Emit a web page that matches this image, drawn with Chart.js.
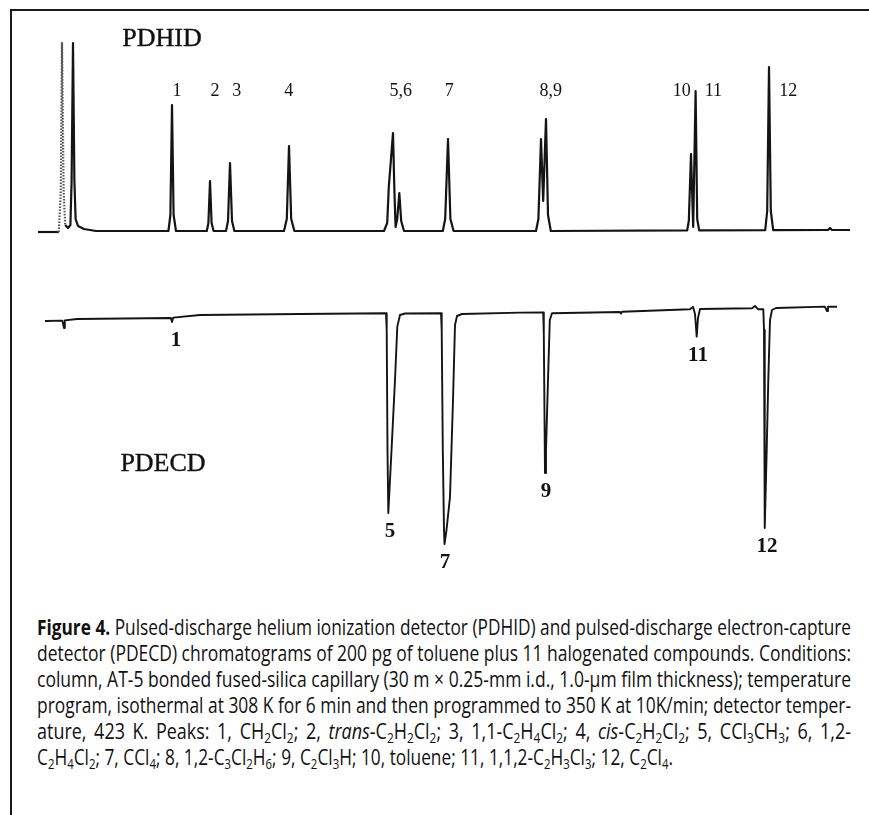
<!DOCTYPE html>
<html>
<head>
<meta charset="utf-8">
<script src="https://cdn.jsdelivr.net/npm/chart.js@4.4.1/dist/chart.umd.min.js"></script>
<style>
  html, body { margin: 0; padding: 0; background: #fff; }
  #page { position: relative; width: 869px; height: 815px; overflow: hidden; background: #fff; }
  canvas { position: absolute; left: 0; }
  .frameTop { position: absolute; left: 10px; top: 9px; width: 859px; height: 2px; background: #1a1a1a; }
  .frameLeft { position: absolute; left: 10px; top: 9px; width: 2px; height: 806px; background: #1a1a1a; }
  .det { position: absolute; font-family: 'Liberation Serif', 'Times New Roman', serif; font-size: 26px; color: #111; transform: translate(-50%, -50%); white-space: nowrap; -webkit-text-stroke: 0.4px #111; }
  #caption { position: absolute; left: 37px; top: 614px; font-family: 'Open Sans', sans-serif; font-size: 21px; color: #111; }
  #caption .ln { white-space: nowrap; height: 26px; line-height: 26px; transform-origin: 0 50%; }
  #caption .ln span { display: inline-block; }
  #caption sub { font-size: 0.66em; vertical-align: -0.3em; line-height: 0; }
</style>
</head>
<body>
<div id="page">
  <div class="frameTop"></div>
  <div class="frameLeft"></div>
  <canvas id="hid" width="869" height="220" style="top:31px"></canvas>
  <canvas id="ecd" width="869" height="300" style="top:290px"></canvas>
  <div class="det" style="left:162px; top:38px">PDHID</div>
  <div class="det" style="left:163px; top:463px">PDECD</div>
  <div id="caption">
    <div class="ln"><span><b>Figure 4.</b> Pulsed-discharge helium ionization detector (PDHID) and pulsed-discharge electron-capture</span></div>
    <div class="ln"><span>detector (PDECD) chromatograms of 200 pg of toluene plus 11 halogenated compounds. Conditions:</span></div>
    <div class="ln"><span>column, AT-5 bonded fused-silica capillary (30 m × 0.25-mm i.d., 1.0-µm film thickness); temperature</span></div>
    <div class="ln"><span>program, isothermal at 308 K for 6 min and then programmed to 350 K at 10K/min; detector temper-</span></div>
    <div class="ln"><span>ature, 423 K. Peaks: 1, CH<sub>2</sub>Cl<sub>2</sub>; 2, <i>trans</i>-C<sub>2</sub>H<sub>2</sub>Cl<sub>2</sub>; 3, 1,1-C<sub>2</sub>H<sub>4</sub>Cl<sub>2</sub>; 4, <i>cis</i>-C<sub>2</sub>H<sub>2</sub>Cl<sub>2</sub>; 5, CCl<sub>3</sub>CH<sub>3</sub>; 6, 1,2-</span></div>
    <div class="ln"><span>C<sub>2</sub>H<sub>4</sub>Cl<sub>2</sub>; 7, CCl<sub>4</sub>; 8, 1,2-C<sub>3</sub>Cl<sub>2</sub>H<sub>6</sub>; 9, C<sub>2</sub>Cl<sub>3</sub>H; 10, toluene; 11, 1,1,2-C<sub>2</sub>H<sub>3</sub>Cl<sub>3</sub>; 12, C<sub>2</sub>Cl<sub>4</sub>.</span></div>
  </div>
</div>
<script>
// PDHID trace: retention (min) and signal
const hidTime = [
  0.45, 0.97, 1.02, 1.05, 1.09, 1.13, 1.2, 1.26, 1.29, 1.325, 1.36, 1.39, 1.45, 1.6, 1.9,
  3.71, 3.76, 3.8, 3.84, 3.9,
  4.67, 4.71, 4.75, 4.79, 4.84,
  5.15, 5.2, 5.25, 5.3, 5.36,
  6.6, 6.67, 6.725, 6.78, 6.86,
  9.1, 9.18, 9.22, 9.325, 9.36, 9.39, 9.43, 9.483, 9.53, 9.6,
  10.57, 10.63, 10.7, 10.76, 10.84,
  12.9, 12.96, 13.025, 13.08, 13.15, 13.2, 13.27,
  16.68, 16.72, 16.775, 16.83, 16.89, 16.93, 16.98,
  18.63, 18.68, 18.725, 18.77, 18.83,
  20.2, 20.25, 20.3, 20.75
]
const hidSignal = [
  -0.5, -0.5, 20, 94, 20, 3, 1.5, 3, 25, 94, 25, 6, 2.5, 1, 0,
  0, 8, 63, 8, 0,
  0, 4, 25, 4, 0,
  0, 5, 34, 5, 0,
  0, 6, 42.5, 6, 0,
  0, 4, 22, 49, 20, 2, 6, 19, 5, 0,
  0, 6, 46, 6, 0,
  0, 6, 46, 15, 56, 8, 0,
  0.3, 5, 38.5, 2, 70, 6, 0.3,
  0.4, 10, 82, 10, 0.4,
  0.5, 1.5, 0.5, 0.5
]
// PDECD trace (negative going peaks)
const ecdTime = [
  0.625, 1.06, 1.1, 1.12, 1.43,
  3.77, 3.8, 3.83, 4.5, 7.0,
  9.15, 9.1675, 9.1875, 9.2075, 9.2925, 9.375, 9.4325, 9.5, 9.625,
  10.525, 10.5425, 10.57, 10.6, 10.6125, 10.6625, 10.75, 10.825, 10.875, 10.925, 11.05,
  12.5, 13.08, 13.095, 13.125, 13.15, 13.2, 13.245, 13.3,
  15.0, 15.025, 15.05,
  16.75, 16.825, 16.875, 16.9175, 16.95, 17.0,
  18.3, 18.375, 18.45,
  18.5825, 18.6, 18.612, 18.625, 18.6675, 18.7075, 18.75, 18.8, 18.9,
  20.12, 20.175, 20.2, 20.425
]
const ecdSignal = [
  -5.5, -5.3, -9, -5.2, -4.5,
  -4, -6, -3.8, -2.5, -2,
  -1.65, -10, -70, -101.5, -68.3, -35, -8.3, -2.5, -1.75,
  -1.65, -10, -70, -110, -117, -110, -93.5, -45, -7.5, -3, -2,
  -1.3, -1.2, -12, -81.5, -70, -35, -5, -1.6,
  -1.0, -1.8, -0.9,
  0.35, 1.6, -2, -13.3, -4, 0.5,
  0.85, 2, 0.4,
  0.35, -10, -70, -109, -70, -35, -5, 0, 1,
  1.7, -0.5, 1.7, 1.6
]
// peak numbers
const hidLabels = ['1', '2', '3', '4', '5,6', '7', '8,9', '10', '11', '12']
const hidLabelTime = [3.925, 4.875, 5.4175, 6.7175, 9.5175, 10.7325, 13.2675, 16.5425, 17.3325, 19.2075]
const ecdLabels = ['1', '5', '7', '9', '11', '12']
const ecdLabelTime = [3.9, 9.25, 10.625, 13.15, 16.95, 18.675]

// labels: either on a fixed level, or just under the tip of the (negative) peak
const peakLabels = {
  id: 'peakLabels',
  afterDatasetsDraw(chart, args, opts) {
    const { ctx } = chart
    const x = chart.scales.x
    const y = chart.scales.y
    const pts = chart.data.datasets[0].data
    ctx.save()
    ctx.font = opts.font
    ctx.fillStyle = '#111'
    ctx.textAlign = 'center'
    ctx.textBaseline = 'middle'
    opts.labels.forEach((txt, i) => {
      const t = opts.times[i]
      let py
      if (opts.level !== undefined) {
        py = y.getPixelForValue(opts.level)
      } else {
        let tip = 0
        for (const p of pts) {
          if (Math.abs(p.x - t) < 0.15 && p.y < tip) tip = p.y
        }
        py = y.getPixelForValue(tip) + opts.gap
      }
      ctx.fillText(txt, x.getPixelForValue(t), py)
    })
    ctx.restore()
  }
}

function drawTrace(id, time, signal, yMin, yMax, lineWidth, labelOpts, dotted) {
  const data = time.map((t, i) => ({ x: t, y: signal[i] }))
  const inDots = ctx => dotted && ctx.p0.parsed.x >= dotted[0] && ctx.p1.parsed.x <= dotted[1]
  const config = {
    type: 'line',
    data: {
      datasets: [{
        data: data,
        borderColor: '#141414',
        borderWidth: lineWidth,
        borderJoinStyle: 'round',
        pointRadius: 0,
        tension: 0,
        fill: false,
        segment: {
          // first solvent peak came out as a dotted pen trace
          borderDash: ctx => inDots(ctx) ? [1.5, 1.5] : undefined,
          borderColor: ctx => inDots(ctx) ? '#555' : undefined
        }
      }]
    },
    options: {
      responsive: false,
      animation: false,
      devicePixelRatio: 1,
      events: [],
      layout: { padding: 0 },
      scales: {
        x: { type: 'linear', min: -0.5, max: 21.225, display: false },
        y: { type: 'linear', min: yMin, max: yMax, display: false }
      },
      plugins: {
        legend: { display: false },
        tooltip: { enabled: false },
        peakLabels: labelOpts
      }
    },
    plugins: [peakLabels]
  }
  new Chart(document.getElementById(id).getContext('2d'), config)
}

drawTrace('hid', hidTime, hidSignal, -10, 100, 2.2, {
  labels: hidLabels, times: hidLabelTime, level: 69.75,
  font: "18px 'Liberation Serif', 'Times New Roman', serif"
}, [0.96, 1.14])

drawTrace('ecd', ecdTime, ecdSignal, -140, 10, 1.9, {
  labels: ecdLabels, times: ecdLabelTime, gap: 19,
  font: "bold 21px 'Liberation Serif', 'Times New Roman', serif"
})

// justify caption lines: common squeeze (a little looser for short lines), spaces take up the rest
const lines = [...document.querySelectorAll('#caption .ln')]
const target = 814
const widths = lines.map(l => l.firstChild.getBoundingClientRect().width)
const squeeze = target / Math.max(...widths.slice(0, 5))
lines.forEach((l, i) => {
  const span = l.firstChild
  let s = squeeze
  if (i < lines.length - 1) {
    s = Math.min(target / widths[i], squeeze * 1.04)
    const gaps = span.textContent.split(' ').length - 1
    span.style.wordSpacing = ((target / s - widths[i]) / gaps) + 'px'
  }
  l.style.transform = 'scaleX(' + s + ')'
})
</script>
</body>
</html>
